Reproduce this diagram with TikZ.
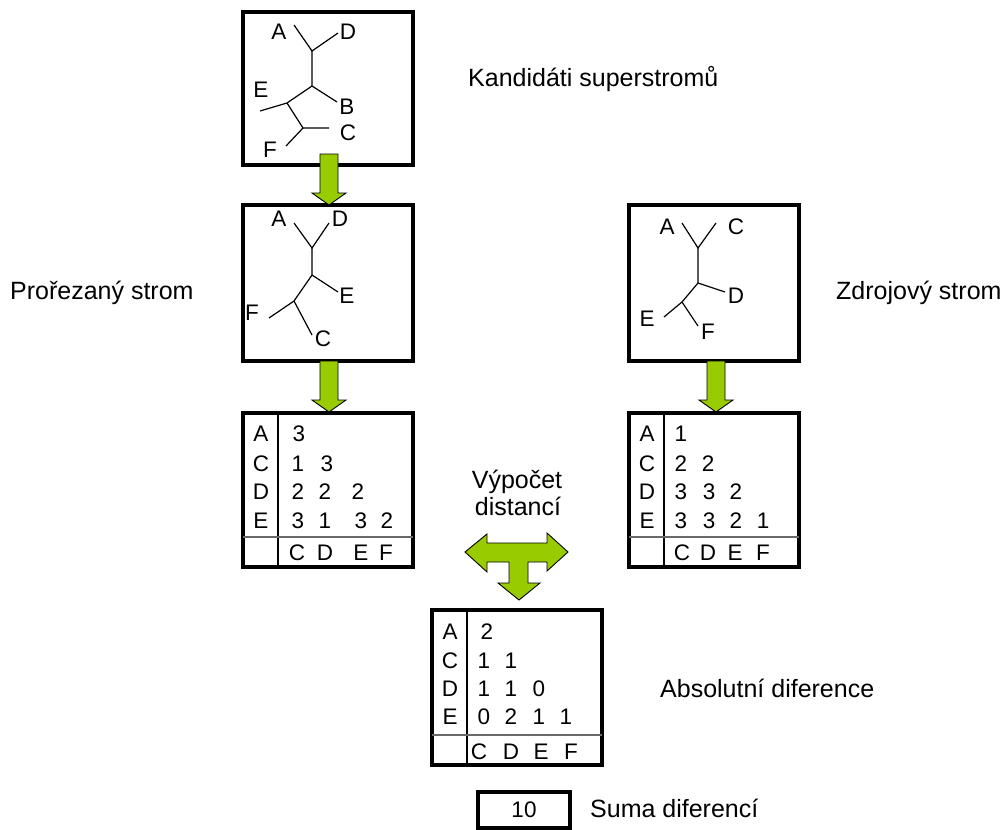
\documentclass[tikz,border=0pt]{standalone}
\usepackage{fontspec}
\setmainfont{Liberation Sans}
\usetikzlibrary{calc}
\definecolor{arrowgreen}{RGB}{153,204,0}
\definecolor{rulegray}{RGB}{105,105,105}
\begin{document}
\begin{tikzpicture}[x=1pt,y=-1pt,
  frame/.style={draw=black, line width=3.2pt, inner sep=0pt, outer sep=0pt},
  twig/.style={draw=black, line width=1.2pt},
  lbl/.style={inner sep=0pt, font=\fontsize{22.5}{26}\selectfont},
  caption/.style={inner sep=0pt, anchor=base west, font=\fontsize{25}{29}\selectfont},
  colrule/.style={draw=black, line width=1.2pt},
  rowrule/.style={draw=rulegray, line width=1.8pt},
  greenshape/.style={fill=arrowgreen, draw=black, line width=0.9pt, line join=miter},
  downarrow/.pic={\draw[greenshape] (-9,0) -- (-9,39) -- (-17,39) -- (0,51) -- (17,39) -- (9,39) -- (9,0) -- cycle;}
]
\fill[white] (0,0) rectangle (1002,830);
\useasboundingbox (0,0) rectangle (1002,830);

% frames
\node[frame, minimum width=170pt, minimum height=153pt] (cand) at (328,88.5) {};
\node[frame, minimum width=170pt, minimum height=156pt] (pruned) at (328,283) {};
\node[frame, minimum width=170pt, minimum height=156pt] (source) at (714,283) {};
\node[frame, minimum width=170pt, minimum height=154pt] (mp) at (328,490) {};
\node[frame, minimum width=170pt, minimum height=154pt] (ms) at (714,490) {};
\node[frame, minimum width=170pt, minimum height=155pt] (md) at (517,687.5) {};
\node[frame, minimum width=92pt, minimum height=36pt, font=\fontsize{22.5}{26}\selectfont] (sum) at (524,810) {10};

% column and row rules of the distance tables
\foreach \m in {mp,ms,md}{
  \draw[colrule] ($(\m.north west)+(35,0)$) -- ($(\m.south west)+(35,0)$);
  \draw[rowrule] ($(\m.south west)+(0,-30)$) -- ($(\m.south east)+(0,-30)$);
}

% candidate supertree
\coordinate (c-a) at (294,25);  \coordinate (c-n1) at (312,51); \coordinate (c-d) at (338,33);
\coordinate (c-n2) at (312,86); \coordinate (c-b) at (337,102); \coordinate (c-n3) at (287,103);
\coordinate (c-e) at (260,111); \coordinate (c-n4) at (303,128); \coordinate (c-c) at (329,128);
\coordinate (c-f) at (286,146);
\draw[twig] (c-a) -- (c-n1) -- (c-d);
\draw[twig] (c-n1) -- (c-n2) -- (c-b);
\draw[twig] (c-n2) -- (c-n3) -- (c-e);
\draw[twig] (c-n3) -- (c-n4) -- (c-c);
\draw[twig] (c-n4) -- (c-f);
\node[lbl] (cl-a) at (279,32) {A};
\node[lbl] (cl-d) at (348,32) {D};
\node[lbl] (cl-e) at (261,90) {E};
\node[lbl] (cl-b) at (347,107) {B};
\node[lbl] (cl-c) at (348,133) {C};
\node[lbl] (cl-f) at (270,150) {F};

% pruned tree
\coordinate (p-a) at (294,223);  \coordinate (p-n1) at (312,248); \coordinate (p-d) at (329,223);
\coordinate (p-n2) at (312,275); \coordinate (p-e) at (338,292);  \coordinate (p-n3) at (294,301);
\coordinate (p-f) at (269,318);  \coordinate (p-c) at (312,335);
\draw[twig] (p-a) -- (p-n1) -- (p-d);
\draw[twig] (p-n1) -- (p-n2) -- (p-e);
\draw[twig] (p-n2) -- (p-n3) -- (p-f);
\draw[twig] (p-n3) -- (p-c);
\node[lbl] (pl-a) at (279,219) {A};
\node[lbl] (pl-d) at (340,219) {D};
\node[lbl] (pl-e) at (347,296) {E};
\node[lbl] (pl-f) at (252,313) {F};
\node[lbl] (pl-c) at (323,339) {C};

% source tree
\coordinate (s-a) at (682,223);  \coordinate (s-n1) at (698,248); \coordinate (s-c) at (716,223);
\coordinate (s-n2) at (698,283); \coordinate (s-d) at (725,292);  \coordinate (s-n3) at (682,302);
\coordinate (s-e) at (664,317);  \coordinate (s-f) at (698,326);
\draw[twig] (s-a) -- (s-n1) -- (s-c);
\draw[twig] (s-n1) -- (s-n2) -- (s-d);
\draw[twig] (s-n2) -- (s-n3) -- (s-e);
\draw[twig] (s-n3) -- (s-f);
\node[lbl] (sl-a) at (667,227) {A};
\node[lbl] (sl-c) at (736,227) {C};
\node[lbl] (sl-d) at (736,296) {D};
\node[lbl] (sl-e) at (647,319) {E};
\node[lbl] (sl-f) at (708,332) {F};

% table of the pruned tree
\foreach \t/\x/\y [count=\k] in {A/261/434, C/261/464, D/261/492, E/261/521,
    3/299/434, 1/298/464, 3/327/464, 2/298/492, 2/325/492, 2/358/492,
    3/298/521, 1/325/521, 3/361/521, 2/387/521,
    C/297/553, D/325/553, E/361/553, F/386/553}
  \node[lbl] (tp\k) at (\x,\y) {\t};

% table of the source tree
\foreach \t/\x/\y [count=\k] in {A/647/434, C/647/464, D/647/492, E/647/521,
    1/681/434, 2/681/464, 2/708/464, 3/681/492, 3/709/492, 2/736/492,
    3/681/521, 3/709/521, 2/736/521, 1/763/521,
    C/682/553, D/708/553, E/735/553, F/763/553}
  \node[lbl] (ts\k) at (\x,\y) {\t};

% table of absolute differences
\foreach \t/\x/\y [count=\k] in {A/450/632, C/450/661, D/450/689, E/450/717,
    2/487/632, 1/484/661, 1/511/661, 1/484/689, 1/511/689, 0/539/689,
    0/484/717, 2/511/717, 1/539/717, 1/566/717,
    C/479/752, D/511/752, E/541/752, F/571/752}
  \node[lbl] (td\k) at (\x,\y) {\t};

% green arrows
\pic at (329,154) {downarrow};
\pic at (329,361) {downarrow};
\pic at (716,361) {downarrow};
\draw[greenshape] (465,552) -- (487,534) -- (487,543) -- (547,543) -- (547,533)
  -- (568,552) -- (547,571) -- (547,562) -- (528,562) -- (528,583) -- (540,583)
  -- (519,600) -- (498,583) -- (509,583) -- (509,562) -- (487,562) -- (487,572) -- cycle;

% captions
\node[caption] (t-cand) at (468,86) {Kandidáti superstromů};
\node[caption] (t-pruned) at (10,299) {Prořezaný strom};
\node[caption] (t-source) at (836,299) {Zdrojový strom};
\node[caption, anchor=base] (t-calc1) at (517,488) {Výpočet};
\node[caption, anchor=base] (t-calc2) at (518,515) {distancí};
\node[caption] (t-diff) at (660,697) {Absolutní diference};
\node[caption] (t-sum) at (590,817) {Suma diferencí};
\end{tikzpicture}
\end{document}
